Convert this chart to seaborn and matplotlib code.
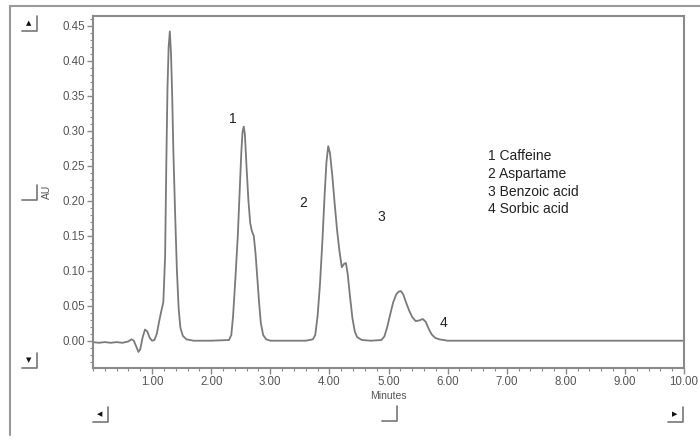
# -*- coding: utf-8 -*-

### HPLC chromatogram - sweetener / preservative mix ###

import pandas as pd
import matplotlib.pyplot as plt
import matplotlib.ticker as mticker
from matplotlib.lines import Line2D
import seaborn as sns

sns.set_style("ticks")
plt.rcParams['font.family'] = ['Liberation Sans', 'DejaVu Sans']

## data ##
minutes = [0.00, 0.10, 0.20, 0.30, 0.40, 0.50, 0.60, 0.65, 0.69, 0.73,
           0.77, 0.80, 0.84, 0.88, 0.92, 0.96, 1.00, 1.04, 1.08, 1.12,
           1.16, 1.19, 1.22, 1.24, 1.26, 1.28, 1.30, 1.32, 1.34, 1.36,
           1.39, 1.42, 1.45, 1.48, 1.52, 1.58, 1.70, 2.00, 2.30, 2.34,
           2.37, 2.41, 2.45, 2.48, 2.51, 2.53, 2.55, 2.57, 2.60, 2.63,
           2.66, 2.69, 2.72, 2.75, 2.78, 2.81, 2.84, 2.88, 2.93, 3.00,
           3.30, 3.60, 3.72, 3.76, 3.80, 3.84, 3.88, 3.92, 3.95, 3.98,
           4.01, 4.05, 4.09, 4.13, 4.17, 4.21, 4.25, 4.28, 4.31, 4.35,
           4.39, 4.43, 4.47, 4.55, 4.70, 4.88, 4.93, 4.98, 5.03, 5.08,
           5.13, 5.17, 5.21, 5.25, 5.30, 5.35, 5.40, 5.46, 5.52, 5.58,
           5.63, 5.68, 5.73, 5.79, 5.86, 6.00, 7.00, 8.00, 9.00, 10.00]
au = [-0.002, -0.003, -0.002, -0.003, -0.002, -0.003, -0.001, 0.002, 0.000, -0.008,
      -0.016, -0.012, 0.005, 0.016, 0.013, 0.004, 0.000, 0.001, 0.010, 0.028,
      0.044, 0.055, 0.120, 0.250, 0.360, 0.420, 0.442, 0.410, 0.350, 0.270,
      0.180, 0.100, 0.045, 0.018, 0.007, 0.002, 0.000, 0.000, 0.001, 0.008,
      0.035, 0.090, 0.150, 0.210, 0.270, 0.298, 0.306, 0.295, 0.245, 0.200,
      0.168, 0.156, 0.150, 0.125, 0.090, 0.055, 0.025, 0.008, 0.002, 0.000,
      0.000, 0.000, 0.002, 0.008, 0.035, 0.080, 0.140, 0.210, 0.255, 0.278,
      0.268, 0.235, 0.195, 0.158, 0.128, 0.105, 0.110, 0.111, 0.095, 0.062,
      0.032, 0.013, 0.005, 0.001, 0.000, 0.001, 0.006, 0.020, 0.038, 0.055,
      0.066, 0.070, 0.071, 0.066, 0.054, 0.043, 0.034, 0.028, 0.029, 0.031,
      0.027, 0.017, 0.009, 0.004, 0.002, 0.000, 0.000, 0.000, 0.000, 0.000]

peak_labels = ["1", "2", "3", "4"]
peak_label_x = [2.37, 3.55, 4.87, 5.93]
peak_label_y = [0.317, 0.197, 0.177, 0.026]
compounds = ["1 Caffeine", "2 Aspartame", "3 Benzoic acid", "4 Sorbic acid"]

df = pd.DataFrame({"Minutes": minutes, "AU": au})

grey = '#8a8a8a'
fig = plt.figure(figsize=(7, 4.42), dpi=100)
ax = fig.add_axes([93/700, 1-368/442, (684-93)/700, (368-16)/442])

sns.lineplot(data=df, x="Minutes", y="AU", ax=ax, color='#7a7a7a', linewidth=1.3)

ax.set_xlim(0, 10)
ax.set_ylim(-0.039, 0.464)
ax.xaxis.set_major_locator(mticker.FixedLocator([1, 2, 3, 4, 5, 6, 7, 8, 9, 10]))
ax.xaxis.set_minor_locator(mticker.MultipleLocator(0.2))
ax.yaxis.set_major_locator(mticker.FixedLocator([0, 0.05, 0.10, 0.15, 0.20, 0.25, 0.30, 0.35, 0.40, 0.45]))
ax.yaxis.set_minor_locator(mticker.MultipleLocator(0.01))
ax.xaxis.set_major_formatter(mticker.FormatStrFormatter('%.2f'))
ax.yaxis.set_major_formatter(mticker.FormatStrFormatter('%.2f'))
ax.tick_params(which='major', direction='out', length=4, width=1, color=grey,
               labelsize=8.3, labelcolor='#555555', pad=2)
ax.tick_params(which='minor', direction='out', length=2, width=0.8, color=grey)
for s in ax.spines.values():
    s.set_color(grey)
    s.set_linewidth(1.5)
ax.set_xlabel('')
ax.set_ylabel('')

fig.text(388/700, 1-396/442, 'Minutes', fontsize=7.5, color='#555555', ha='center', va='center')
fig.text(47/700, 1-192/442, 'AU', fontsize=7.5, color='#555555', rotation=90, ha='center', va='center')

# peak numbers and compound list
for lab, lx, ly in zip(peak_labels, peak_label_x, peak_label_y):
    ax.text(lx, ly, lab, fontsize=10, color='#222222', ha='center', va='center')
for i, c in enumerate(compounds):
    ax.text(6.69, 0.264 - i*0.0255, c, fontsize=10, color='#222222', ha='left', va='center')

# outer window frame
fig.add_artist(Line2D([10/700, 1], [1-6/442, 1-6/442], color='#999999', lw=1.5))
fig.add_artist(Line2D([10/700, 10/700], [1-6/442, 1-435/442], color='#999999', lw=1.5))

# little scroll buttons
def button(px, py, glyph):
    x0, x1 = (px-8)/700, (px+7)/700
    y0, y1 = 1-(py+8)/442, 1-(py-7)/442
    fig.add_artist(Line2D([x0, x1, x1], [y0, y0, y1], color='#777777', lw=1.2))
    if glyph:
        fig.text((px-1)/700, 1-(py+0.5)/442, glyph, fontsize=5, color='#111111',
                 ha='center', va='center', family=['DejaVu Sans'])

button(30, 23, '▲')
button(30, 360, '▼')
button(30, 192, '')
button(101, 414, '◀')
button(390, 413, '')
button(676, 414, '▶')

plt.savefig('out.png', dpi=100)
